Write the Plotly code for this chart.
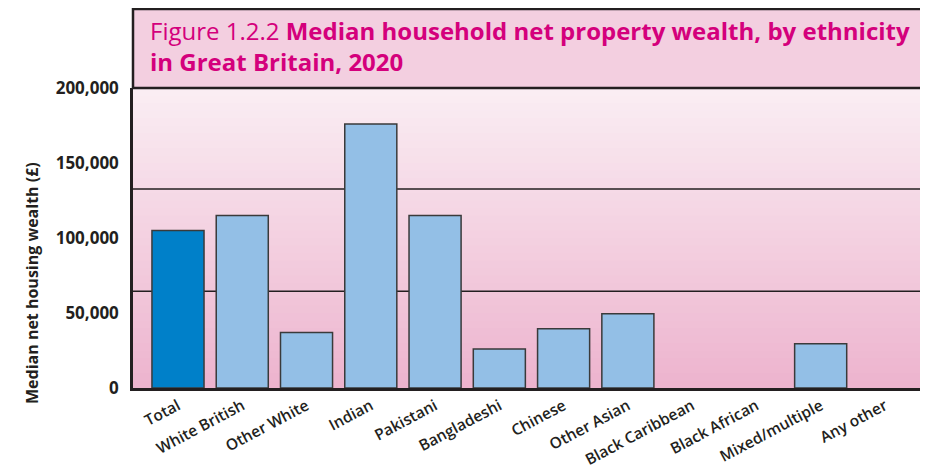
import plotly.graph_objects as go

categories = ["Total", "White British", "Other White", "Indian", "Pakistani", "Bangladeshi",
              "Chinese", "Other Asian", "Black Caribbean", "Black African", "Mixed/multiple", "Any other"]
values = [105000, 115000, 37000, 176000, 115000, 26000, 39500, 49500, None, None, 29500, None]
y_ticks = [0, 50000, 100000, 150000, 200000]
y_tick_labels = ["0", "50,000", "100,000", "150,000", "200,000"]
ref_lines = [132700, 64500]

bar_colors = ["#0080c9" if c == "Total" else "#93bfe6" for c in categories]
dark = "#231f20"
magenta = "#d4007c"
font_family = "Open Sans, Noto Sans, sans-serif"

fig = go.Figure()
fig.add_trace(go.Bar(
    x=categories, y=values,
    marker=dict(color=bar_colors, line=dict(color="#3a3a3a", width=1.5)),
    width=0.81,
))

shapes = []
n = 40
top_c = (250, 237, 243)
bot_c = (237, 180, 206)
for i in range(n):
    t = i / (n - 1)
    col = tuple(round(bot_c[k] + (top_c[k] - bot_c[k]) * t) for k in range(3))
    shapes.append(dict(type="rect", xref="paper", yref="paper", x0=0, x1=1,
                       y0=i / n, y1=(i + 1) / n + 0.002, fillcolor="rgb(%d,%d,%d)" % col,
                       line=dict(width=0), layer="below"))
for v in ref_lines:
    shapes.append(dict(type="line", xref="paper", yref="y", x0=0, x1=1, y0=v, y1=v,
                       line=dict(color=dark, width=1.5), layer="below"))
top_ext = 1 + 79 / 300
shapes.append(dict(type="rect", xref="paper", yref="paper", x0=0, x1=1.01, y0=1, y1=top_ext,
                   fillcolor="#f3cfe0", line=dict(color=dark, width=2.5), layer="above"))

fig.update_layout(
    width=920, height=462,
    margin=dict(l=125, r=0, t=80, b=82, autoexpand=False),
    paper_bgcolor="white", plot_bgcolor="rgba(0,0,0,0)",
    showlegend=False,
    shapes=shapes,
    font=dict(family=font_family, color=dark),
    annotations=[
        dict(
            xref="paper", yref="paper", x=15 / 795, y=1 + 76 / 300, xanchor="left", yanchor="top",
            align="left", showarrow=False,
            text="Figure 1.2.2 <b>Median household net property wealth, by ethnicity<br>in Great Britain, 2020</b>",
            font=dict(size=24, color=magenta, family=font_family),
        ),
        dict(
            xref="paper", yref="paper", x=(24 - 125) / 795, y=(380 - 275) / 300,
            xanchor="center", yanchor="middle", textangle=-90, showarrow=False,
            text="<b>Median net housing wealth (£)</b>",
            font=dict(size=16, color=dark, family=font_family),
        ),
    ],
)
fig.update_xaxes(
    range=[-0.7, 11.67], tickangle=-28, ticks="", showgrid=False, automargin=False,
    showline=True, linecolor=dark, linewidth=3,
    tickfont=dict(size=15.5, color=dark, weight=600),
)
fig.update_yaxes(
    range=[0, 200000], tickvals=y_ticks, ticktext=y_tick_labels, ticks="", automargin=False,
    showgrid=False, zeroline=False, showline=True, linecolor=dark, linewidth=2.5,
    tickfont=dict(size=17, color=dark, weight="bold"), ticklabelstandoff=8,
)
fig.write_html("out.html")
